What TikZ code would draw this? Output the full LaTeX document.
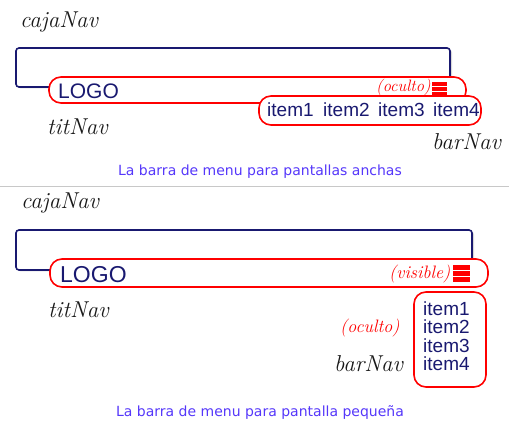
\documentclass[tikz,border=0pt]{standalone}
\usepackage{fontspec}
\newfontfamily\arial{Liberation Sans}
\newfontfamily\capfont{DejaVu Sans}
\usetikzlibrary{shadows}
\definecolor{navy}{RGB}{25,25,112}
\definecolor{capblue}{RGB}{85,55,250}
\definecolor{linegray}{RGB}{200,200,200}
\begin{document}
\begin{tikzpicture}[x=1pt,y=-1pt,
  hand/.style={font=\fontsize{23}{25}\selectfont\itshape, text=black!90, inner sep=0pt, anchor=west},
  redhand/.style={font=\fontsize{#1}{#1}\selectfont\itshape, text=red, inner sep=0pt, anchor=west},
  cajabox/.style={draw=navy, line width=1.6pt, rounded corners=3pt, fill=white,
    drop shadow={opacity=0.3, shadow xshift=2pt, shadow yshift=-1.5pt}},
  redbar/.style={draw=red, line width=1.6pt, rounded corners=12pt, fill=white},
  logo/.style={font=\arial\fontsize{#1}{#1}\selectfont, text=navy, inner sep=0pt, anchor=west},
  item/.style={font=\arial\fontsize{19}{19}\selectfont, text=navy, inner sep=0pt, anchor=west},
  caption/.style={font=\capfont\fontsize{14}{16}\selectfont, text=capblue, inner sep=0pt},
  burger/.style={fill=red, draw=none}
]
\useasboundingbox (0,0) rectangle (509,427);

% ---------- top: wide screens ----------
\node[hand] (caja1lbl) at (20,22) {cajaNav};
\path[cajabox] (16,48) rectangle (450,87);
\coordinate (caja1) at (233,67);
\path[redbar] (49,77) rectangle (466,103);
\node[logo=21] (logo1) at (58,91) {LOGO};
\node[redhand=16.5] (ocul1) at (376,87) {(oculto)};
\fill[burger] (432,82) rectangle (447,86);
\fill[burger] (432,87.5) rectangle (447,91);
\fill[burger] (432,92.5) rectangle (447,96);
\path[redbar] (259,96) rectangle (481,125);
\node[item] (i11) at (267,110) {item1};
\node[item] (i12) at (323,110) {item2};
\node[item] (i13) at (378,110) {item3};
\node[item] (i14) at (433,110) {item4};
\node[hand] (tit1) at (47,127) {titNav};
\node[hand] (bar1) at (432,142) {barNav};
\node[caption] (cap1) at (260,172) {La barra de menu para pantallas anchas};

\draw[linegray, line width=0.8pt] (0,186.5) -- (509,186.5);

% ---------- bottom: small screens ----------
\node[hand] (caja2lbl) at (21,203) {cajaNav};
\path[cajabox] (16,230) rectangle (472,270);
\path[redbar] (50,259) rectangle (488,287);
\node[logo=23] (logo2) at (60,274.5) {LOGO};
\node[redhand=18] (visi) at (389,274) {(visible)};
\fill[burger] (453,265) rectangle (470,270);
\fill[burger] (453,271.5) rectangle (470,276);
\fill[burger] (453,277.5) rectangle (470,282);
\path[redbar] (414,292) rectangle (486,387);
\node[item] (i21) at (423,309) {item1};
\node[item] (i22) at (423,327) {item2};
\node[item] (i23) at (423,345.5) {item3};
\node[item] (i24) at (423,364) {item4};
\node[hand] (tit2) at (48,310) {titNav};
\node[redhand=18] (ocul2) at (340,328) {(oculto)};
\node[hand] (bar2) at (334,364) {barNav};
\node[caption] (cap2) at (260,413) {La barra de menu para pantalla pequeña};
\end{tikzpicture}
\end{document}
